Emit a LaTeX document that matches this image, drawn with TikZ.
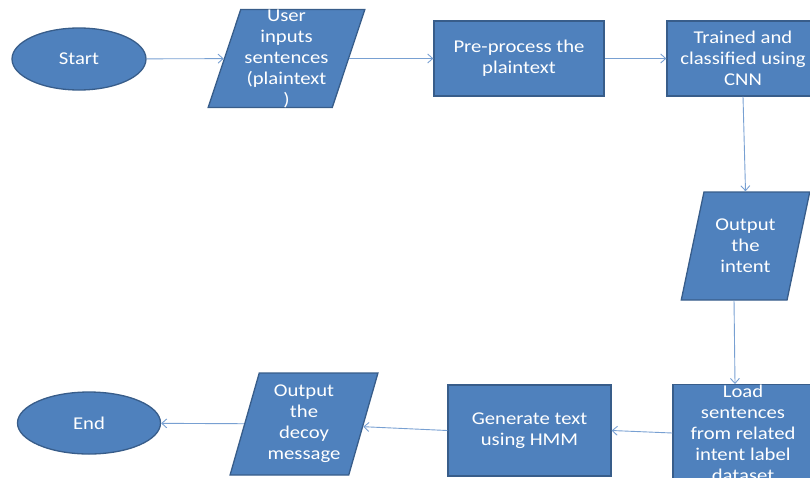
\documentclass[tikz,border=0pt]{standalone}
\usepackage{fontspec}
\setmainfont[FakeStretch=1.15]{Carlito}
\usepackage{xcolor}
\usepackage{tikz}
\usetikzlibrary{positioning,shapes.geometric,arrows.meta,calc}
\definecolor{flowfill}{RGB}{79,129,189}
\definecolor{flowedge}{RGB}{56,93,138}
\definecolor{flowline}{RGB}{120,160,210}

\begin{document}
\begin{tikzpicture}[
    x=1pt, y=-1pt,
    font=\fontsize{18}{21}\selectfont,
    term/.style={
        ellipse,
        draw=flowedge,
        line width=1.3pt,
        fill=flowfill,
        text=white,
        inner sep=0pt
    },
    proc/.style={
        rectangle,
        draw=flowedge,
        line width=1.3pt,
        fill=flowfill,
        text=white,
        align=center,
        inner sep=0pt
    },
    io/.style={
        trapezium,
        trapezium left angle=73,
        trapezium right angle=107,
        trapezium stretches=true,
        draw=flowedge,
        line width=1.3pt,
        fill=flowfill,
        text=white,
        align=center,
        inner sep=0pt
    },
    arr/.style={-{Straight Barb[length=5pt,width=9pt]}, draw=flowline, line width=0.9pt}
]
\useasboundingbox (0,0) rectangle (810,477);

\node[term, minimum width=134pt, minimum height=62pt] (start) at (79,59) {Start};

\node[io, minimum width=157pt, minimum height=97pt] (input) at (286.5,58.5)
{User\\inputs\\sentences\\(plaintext\\)};

\node[proc, minimum width=170pt, minimum height=75pt] (prep) at (519,58.5)
{Pre-process the\\plaintext};

\node[proc, minimum width=152pt, minimum height=75pt] (train) at (743,58.5)
{Trained and\\classified using\\CNN};

\node[io, minimum width=129pt, minimum height=108pt] (intent) at (745.5,246)
{Output\\the\\intent};

\node[proc, minimum width=140pt, minimum height=96pt] (load) at (743,433)
{Load\\sentences\\from related\\intent label\\dataset};

\node[proc, minimum width=163pt, minimum height=91pt] (gen) at (529.5,430.5)
{Generate text\\using HMM};

\node[io, minimum width=148pt, minimum height=102pt] (decoy) at (304,424)
{Output\\the\\decoy\\message};

\node[term, minimum width=143pt, minimum height=62pt] (end) at (89,423) {End};

\draw[arr] (start) -- (input);
\draw[arr] (input) -- (prep);
\draw[arr] (prep) -- (train);
\draw[arr] (train.south) -- (intent.north);
\draw[arr] (intent.bottom side) -- ([xshift=-8pt]load.north);
\draw[arr] (load.west) -- (gen.east);
\draw[arr] (gen.west) -- (decoy);
\draw[arr] (decoy) -- (end);

\end{tikzpicture}
\end{document}
